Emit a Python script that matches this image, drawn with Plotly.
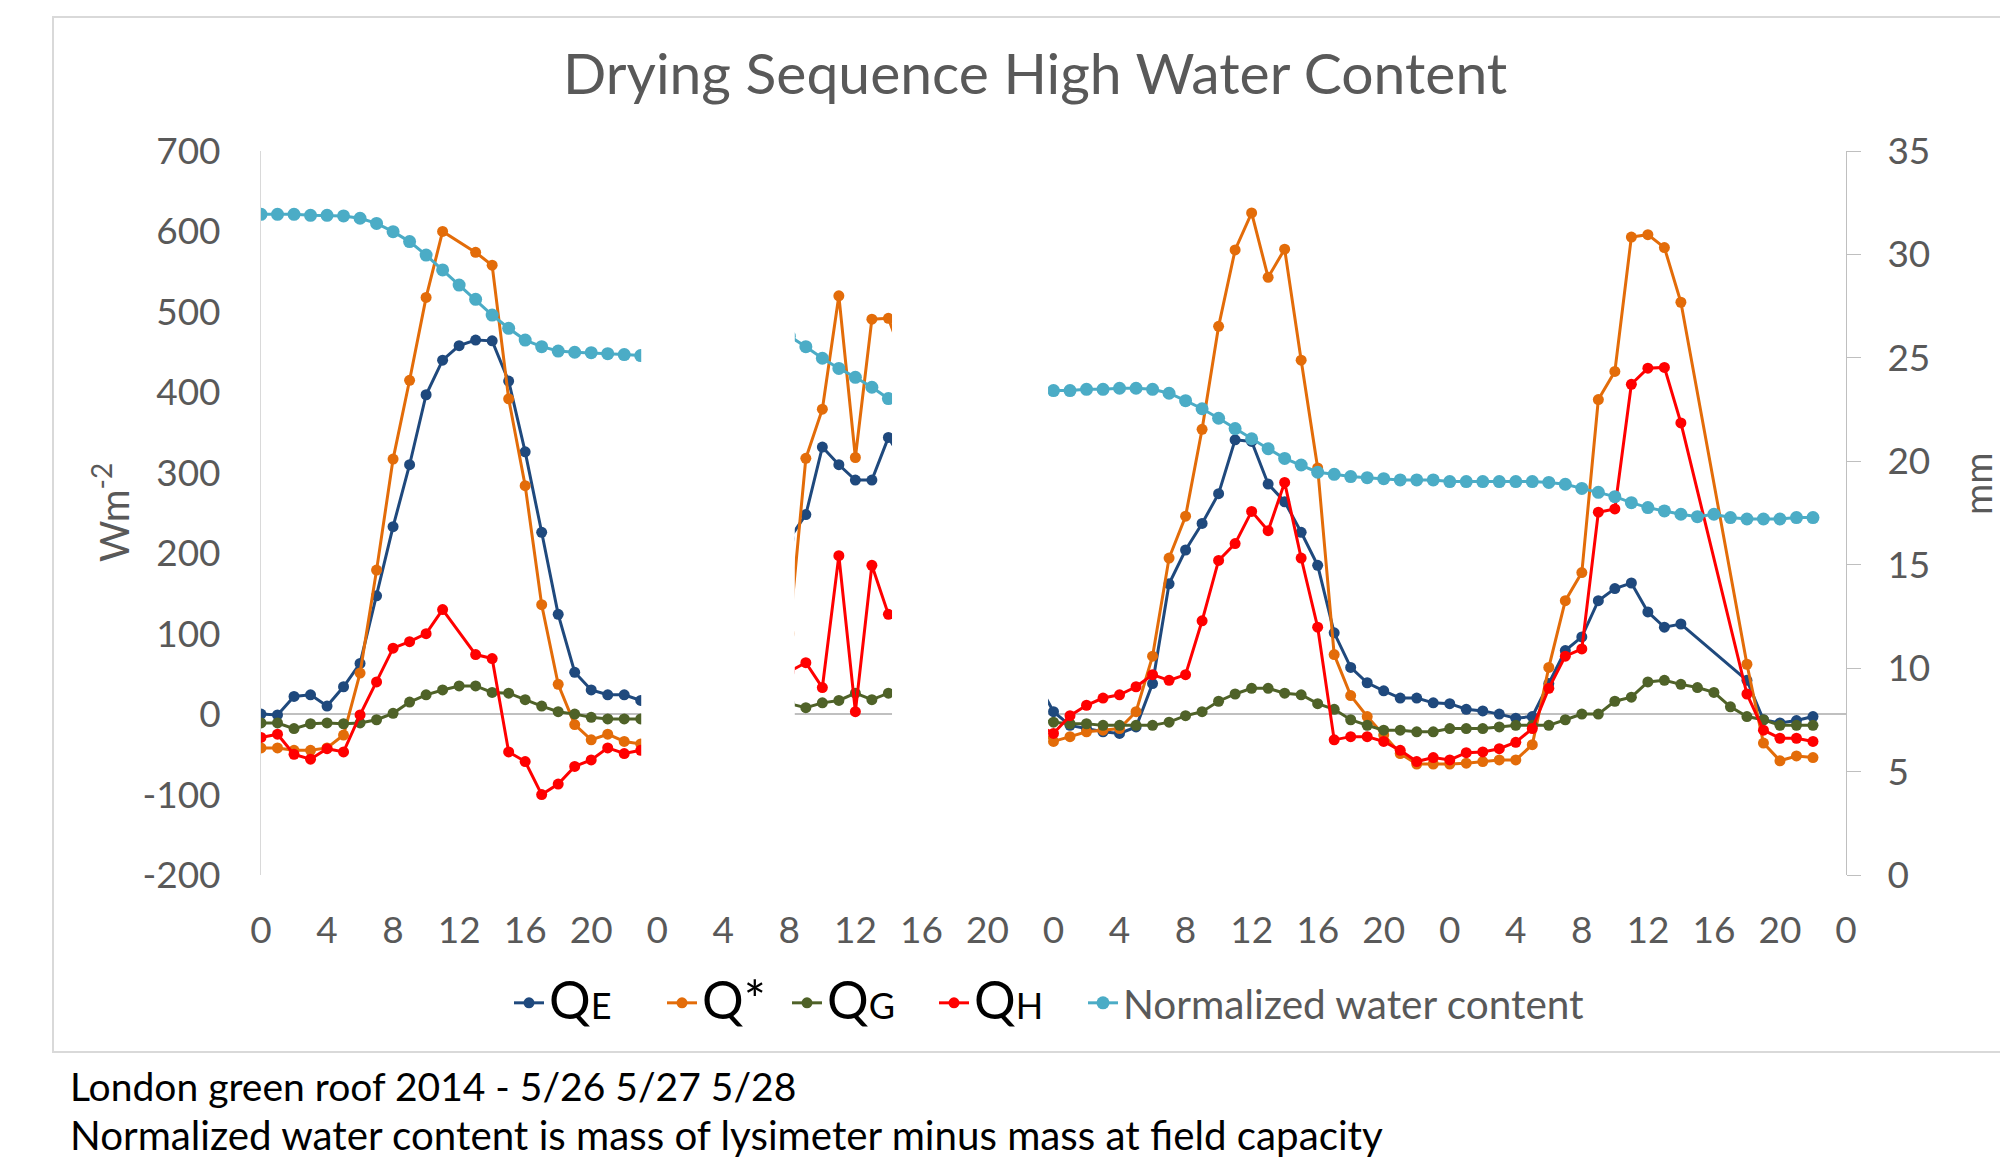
import plotly.graph_objects as go

# ---------------- data (hourly, 4 days; None = no visible value) ----------------
tick_hours = list(range(0, 97, 4))
tick_labels = [str(h % 24) for h in tick_hours]
flux_ticks = list(range(-200, 701, 100))
flux_tick_labels = [str(v) for v in flux_ticks]
water_ticks = list(range(0, 36, 5))
water_tick_labels = [str(v) for v in water_ticks]

QE_day1 = [0, -1, 22, 24, 10, 34, 63, 147, 233, 310, 397, 440, 458, 465, 464, 414, 326, 226, 124, 52, 30, 24, 24, 17]
QS_day1 = [-42, -42, -45, -45, -42, -26, 51, 179, 317, 415, 518, 600, None, 574, 558, 392, 284, 136, 37, -13, -32, -25, -34, -37]
QG_day1 = [-11, -11, -18, -12, -11, -12, -11, -7, 1, 15, 24, 30, 35, 35, 27, 26, 18, 10, 3, 0, -4, -6, -6, -6]
QH_day1 = [-29, -25, -50, -56, -43, -47, -1, 40, 82, 90, 100, 130, None, 74, 69, -47, -59, -100, -87, -65, -57, -42, -49, -45]
WC_day1 = [31.94, 31.94, 31.94, 31.89, 31.89, 31.86, 31.75, 31.50, 31.10, 30.62, 29.97, 29.25,
           28.52, 27.83, 27.07, 26.43, 25.86, 25.54, 25.33, 25.27, 25.25, 25.20, 25.16, 25.11]

QE_day2 = [None] * 8 + [218, 248, 332, 310, 291, 291, 344] + [None] * 8 + [41]
QS_day2 = [None] * 8 + [100, 318, 379, 520, 319, 491, 492] + [None] * 8 + [-18]
QG_day2 = [None] * 8 + [13, 8, 14, 17, 26, 18, 26] + [None] * 8 + [-6]
QH_day2 = [None] * 8 + [53, 64, 33, 197, 3, 185, 124] + [None] * 8 + [-13]
WC_day2 = [None] * 8 + [26.05, 25.54, 24.98, 24.49, 24.06, 23.58, 23.03] + [None] * 8 + [23.42]

QE_day3 = [3, -14, -18, -22, -24, -16, 38, 162, 204, 237, 274, 341, 339, 286, 264, 226, 185, 101, 58, 39, 29, 20, 20, 14]
QS_day3 = [-34, -28, -22, -20, -18, 3, 72, 194, 246, 354, 482, 577, 623, 543, 578, 440, 306, 74, 23, -3, -26, -49, -62, -62]
QG_day3 = [-10, -12, -12, -14, -14, -14, -14, -10, -2, 3, 16, 25, 32, 32, 26, 24, 13, 6, -7, -14, -20, -20, -22, -22]
QH_day3 = [-24, -2, 11, 20, 24, 34, 49, 42, 49, 116, 191, 212, 252, 228, 288, 194, 108, -32, -28, -28, -34, -45, -59, -54]
WC_day3 = [23.42, 23.42, 23.48, 23.48, 23.53, 23.53, 23.48, 23.29, 22.93, 22.54, 22.08, 21.58,
           21.09, 20.61, 20.14, 19.82, 19.47, 19.37, 19.26, 19.21, 19.16, 19.10, 19.10, 19.10]

QE_day4 = [13, 6, 4, 0, -5, -3, 38, 79, 96, 141, 156, 163, 127, 108, 112, None, None, None, 42, -7, -11, -8, -3, None]
QS_day4 = [-62, -61, -59, -57, -57, -38, 58, 141, 176, 391, 426, 593, 596, 580, 512, None, None, None, 62, -36, -58, -52, -54, None]
QG_day4 = [-18, -18, -18, -16, -14, -14, -14, -7, 0, 0, 16, 21, 40, 42, 37, 33, 27, 9, -3, -7, -14, -14, -14, None]
QH_day4 = [-57, -48, -47, -43, -35, -18, 32, 72, 81, 251, 255, 410, 430, 431, 362, None, None, None, 25, -20, -30, -30, -34, None]
WC_day4 = [19.02, 19.02, 19.02, 19.02, 19.02, 19.02, 18.98, 18.89, 18.69, 18.50, 18.29, 18.00,
           17.76, 17.60, 17.44, 17.32, 17.44, 17.28, 17.21, 17.21, 17.21, 17.28, 17.28, None]

QE = QE_day1 + QE_day2 + QE_day3 + QE_day4
QS = QS_day1 + QS_day2 + QS_day3 + QS_day4
QG = QG_day1 + QG_day2 + QG_day3 + QG_day4
QH = QH_day1 + QH_day2 + QH_day3 + QH_day4
WC = WC_day1 + WC_day2 + WC_day3 + WC_day4
hours = list(range(len(QE)))

# hidden hour ranges (white-masked in the original)
hidden_ranges = [(23.03, 32.33), (38.22, 47.67)]

# ---------------- layout geometry (reference pixel coords; page body has 8px margin) ----------------
OFF = 8
W, H = 2008 - 2 * OFF, 1166 - 2 * OFF
L, R, T, B = 261 - OFF, 1846 - OFF, 151 - OFF, 875 - OFF
FONT = "Lato"
GREY = "#595959"

def px_x(p):
    return (p - OFF - L) / (R - L)

def px_y(p):
    return (B - (p - OFF)) / (B - T)

def qname(main, sub=""):
    s = "<span style='font-size:52px;color:#000000'>" + main
    if sub:
        s += "<span style='font-size:36px'>" + sub + "</span>"
    return s + "</span>"

series = [
    (qname("Q", "E"), QE, "#1F497D", 11, "y", 519),
    (qname("Q*"), QS, "#E36C09", 11, "y", 672),
    (qname("Q", "G"), QG, "#4F6228", 11, "y", 797),
    (qname("Q", "H"), QH, "#FF0000", 11, "y", 944),
    ("Normalized water content", WC, "#4BACC6", 13, "y2", 1093),
]

fig = go.Figure()
legends = {}
for i, (name, vals, color, msize, yax, lx) in enumerate(series):
    key = "legend" if i == 0 else "legend%d" % (i + 1)
    fig.add_trace(go.Scatter(
        x=hours, y=vals, name=name, mode="lines+markers", yaxis=yax,
        connectgaps=True, legend=key,
        line=dict(color=color, width=3),
        marker=dict(color=color, size=msize),
    ))
    legends[key] = dict(orientation="h", x=px_x(lx - 10), y=px_y(1003), xanchor="left",
                        yanchor="middle", font=dict(family=FONT, size=40.5, color=GREY),
                        bgcolor="rgba(0,0,0,0)", itemwidth=30)

shapes = [
    dict(type="rect", xref="paper", yref="paper",
         x0=px_x(53), x1=px_x(2040), y0=px_y(1052), y1=px_y(17),
         line=dict(color="#d9d9d9", width=2), fillcolor="rgba(0,0,0,0)", layer="below"),
]
for a, b in hidden_ranges:
    shapes.append(dict(type="rect", xref="x", yref="paper", x0=a, x1=b, y0=-0.03, y1=1.03,
                       fillcolor="white", line=dict(width=0), layer="above"))

annotations = [
    dict(text="Drying Sequence High Water Content", xref="paper", yref="paper",
         x=px_x(1035), y=px_y(72), xanchor="center", yanchor="middle", showarrow=False,
         font=dict(family=FONT, size=57, color=GREY)),
    dict(text="Wm<sup>-2</sup>", xref="paper", yref="paper", x=px_x(111), y=px_y(513),
         xanchor="center", yanchor="middle", textangle=-90, showarrow=False,
         font=dict(family=FONT, size=40, color=GREY)),
    dict(text="mm", xref="paper", yref="paper", x=px_x(1977), y=px_y(484),
         xanchor="center", yanchor="middle", textangle=-90, showarrow=False,
         font=dict(family=FONT, size=38, color=GREY)),
    dict(text="London green roof 2014 - 5/26 5/27 5/28", xref="paper", yref="paper",
         x=px_x(68), y=px_y(1086), xanchor="left", yanchor="middle", showarrow=False,
         font=dict(family=FONT, size=39, color="#000000")),
    dict(text="Normalized water content is mass of lysimeter minus mass at field capacity",
         xref="paper", yref="paper", x=px_x(68), y=px_y(1134), xanchor="left", yanchor="middle",
         showarrow=False, font=dict(family=FONT, size=40.3, color="#000000")),
]

fig.update_layout(
    width=W, height=H,
    margin=dict(l=L, r=W - R, t=T, b=H - B, autoexpand=False),
    paper_bgcolor="white", plot_bgcolor="white",
    font=dict(family=FONT, color=GREY),
    showlegend=True,
    xaxis=dict(range=[0, 96], tickmode="array", tickvals=tick_hours, ticktext=tick_labels,
               showgrid=False, zeroline=False, showline=False, ticks="",
               tickfont=dict(family=FONT, size=37, color=GREY), ticklabelstandoff=30),
    yaxis=dict(range=[-200, 700], tickmode="array", tickvals=flux_ticks, ticktext=flux_tick_labels,
               showgrid=False, zeroline=True,
               zerolinecolor="#c0c0c0", zerolinewidth=1.5,
               showline=True, linecolor="#d9d9d9", linewidth=1, ticks="",
               tickfont=dict(family=FONT, size=37, color=GREY), ticklabelstandoff=32),
    yaxis2=dict(range=[0, 35], tickmode="array", tickvals=water_ticks, ticktext=water_tick_labels,
                overlaying="y", side="right", showgrid=False,
                zeroline=False, showline=True, linecolor="#bfbfbf", linewidth=1,
                ticks="outside", ticklen=14, tickcolor="#bfbfbf",
                tickfont=dict(family=FONT, size=37, color=GREY), ticklabelstandoff=19),
    shapes=shapes,
    annotations=annotations,
    **legends,
)

fig.write_html("out.html")
